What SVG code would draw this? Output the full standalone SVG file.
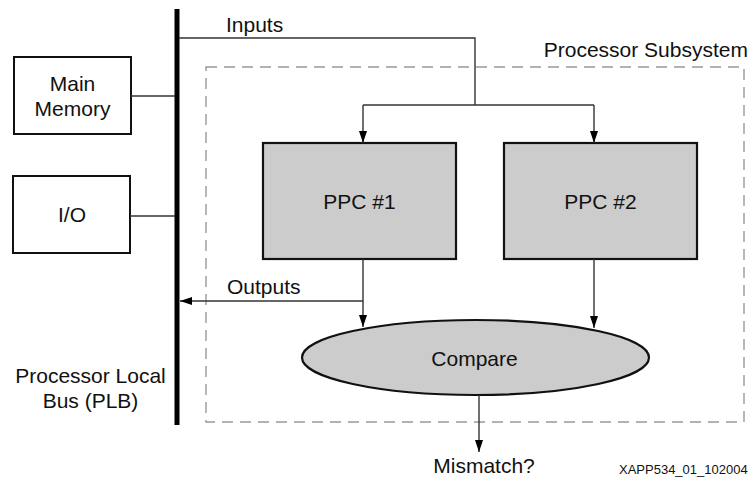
<svg xmlns="http://www.w3.org/2000/svg" width="752" height="478" viewBox="0 0 752 478">
<defs>
<marker id="arr" viewBox="0 0 12 8" refX="12" refY="4" markerWidth="12" markerHeight="8" markerUnits="userSpaceOnUse" orient="auto">
<path d="M0,0 L12,4 L0,8 Z" fill="#000"/>
</marker>
<style>
text{font-family:"Liberation Sans",Arial,Helvetica,sans-serif;font-size:21px;fill:#111}
.box{fill:#fff;stroke:#111;stroke-width:2}
.ppc{fill:#cccccc;stroke:#111;stroke-width:2.2}
.ln{fill:none;stroke:#333;stroke-width:1.4}
.mid{text-anchor:middle}
</style>
</defs>
<rect width="752" height="478" fill="#fff"/>
<g id="subsystem">
<rect x="206" y="67" width="538" height="355" fill="none" stroke="#999" stroke-width="1.4" stroke-dasharray="11,7"/>
<text x="748" y="57" text-anchor="end">Processor Subsystem</text>
</g>
<g id="bus">
<line x1="177" y1="9" x2="177" y2="425" stroke="#000" stroke-width="5"/>
<text x="90.5" y="383" class="mid">Processor Local</text>
<text x="90.5" y="408" class="mid">Bus (PLB)</text>
</g>
<g id="main-memory">
<rect x="14" y="57" width="117" height="77" class="box"/>
<text x="72.5" y="91" class="mid">Main</text>
<text x="72.5" y="116" class="mid">Memory</text>
</g>
<g id="io">
<rect x="13" y="176" width="117" height="77" class="box"/>
<text x="72" y="222" class="mid">I/O</text>
</g>
<g id="ppc1">
<rect x="263" y="143" width="193" height="116" class="ppc"/>
<text x="359.5" y="209" class="mid">PPC #1</text>
</g>
<g id="ppc2">
<rect x="504" y="143" width="193" height="116" class="ppc"/>
<text x="600.5" y="209" class="mid">PPC #2</text>
</g>
<g id="compare">
<ellipse cx="475.5" cy="357.5" rx="173.5" ry="37.5" class="ppc"/>
<text x="474.5" y="366" class="mid">Compare</text>
</g>
<g id="connectors">
<line x1="131" y1="96" x2="175" y2="96" class="ln"/>
<line x1="130" y1="216" x2="175" y2="216" class="ln"/>
<polyline points="179,38 475,38 475,105" class="ln"/>
<line x1="363" y1="105" x2="594" y2="105" class="ln"/>
<line x1="363" y1="105" x2="363" y2="143" class="ln" marker-end="url(#arr)"/>
<line x1="594" y1="105" x2="594" y2="143" class="ln" marker-end="url(#arr)"/>
<line x1="363" y1="259" x2="363" y2="327" class="ln" marker-end="url(#arr)"/>
<line x1="594" y1="259" x2="594" y2="328" class="ln" marker-end="url(#arr)"/>
<line x1="363" y1="301" x2="180" y2="301" class="ln" marker-end="url(#arr)"/>
<line x1="479" y1="395" x2="479" y2="452" class="ln" marker-end="url(#arr)"/>
<text x="226" y="32">Inputs</text>
<text x="227" y="294">Outputs</text>
<text x="484" y="473" class="mid">Mismatch?</text>
</g>
<text x="619" y="474" style="font-size:13px">XAPP534_01_102004</text>
</svg>
